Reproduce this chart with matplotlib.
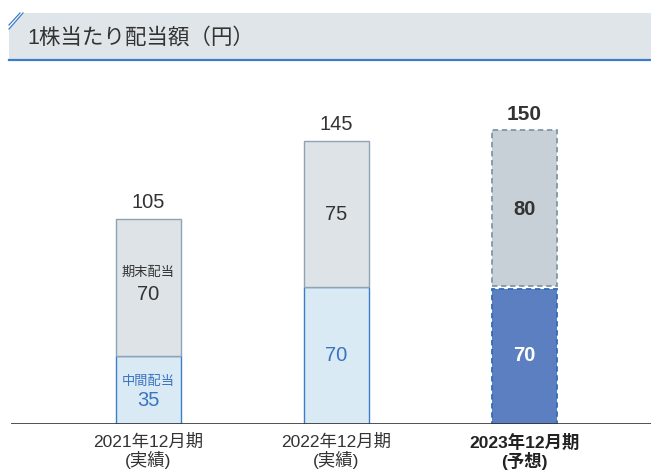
import matplotlib
matplotlib.use("Agg")
import matplotlib.pyplot as plt
from matplotlib.patches import Polygon

# Arial-like digits, CJK glyphs fall back to Noto
plt.rcParams['font.family'] = ['Liberation Sans', 'Noto Sans CJK JP', 'DejaVu Sans']

# data
periods = ['2021年12月期\n(実績)', '2022年12月期\n(実績)', '2023年12月期\n(予想)']
interim = [35, 70, 70]
final = [70, 75, 80]
totals = [105, 145, 150]
title = '1株当たり配当額（円）'

W, H = 651, 472
fig = plt.figure(figsize=(W / 100, H / 100), dpi=100)

# header band drawn in pixel coords
bg = fig.add_axes([0, 0, 1, 1])
bg.set_xlim(0, W)
bg.set_ylim(H, 0)
bg.axis('off')
bg.add_patch(Polygon([(24, 13), (W, 13), (W, 60), (9, 60), (9, 29)],
                     closed=True, facecolor='#dfe5e8', edgecolor='none'))
bg.plot([9, W], [60, 60], color='#3d7cc9', lw=1.6)
bg.plot([9, 20], [25, 13], color='#3d7cc9', lw=0.9)
bg.plot([9, 23], [29, 13], color='#3d7cc9', lw=0.9)
bg.text(27, 38, title, fontsize=15.5, color='#333333', va='center', ha='left')

# chart axes: baseline at y=424 px, 1.952 px per yen
ax = fig.add_axes([11 / W, (H - 424) / H, (W - 11) / W, 344 / H])
ax.set_ylim(0, 344 / 1.952)
ax.set_xlim(-(148.5 - 11) / 188, (W - 148.5) / 188)
ax.axis('off')
ax.axhline(0, color='#333333', lw=1.2)

x = list(range(len(periods)))
bw = 65 / 188
num_fs = 14.5

for i in x:
    if i < 2:
        ax.bar(i, interim[i], bw, color='#d9eaf5', edgecolor='#3d7cc9', lw=1)
        ax.bar(i, final[i], bw, bottom=interim[i], color='#dde3e6',
               edgecolor='#8ea3b3', lw=1)
    else:
        ax.bar(i, interim[i] - 0.6, bw, color='#5b7fc1', edgecolor='#2f6db5',
               lw=1.3, linestyle=(0, (3, 2)))
        ax.bar(i, final[i], bw, bottom=interim[i] + 0.6, color='#c6d0d6',
               edgecolor='#7f97a8', lw=1.3, linestyle=(0, (3, 2)))

# totals
for i in x:
    bold = i == 2
    ax.annotate(str(totals[i]), (i, interim[i] + final[i]), xytext=(0, 5),
                textcoords='offset points', ha='center', va='bottom',
                fontsize=15 if bold else num_fs, color='#333333',
                fontweight='bold' if bold else 'normal')

# segment labels
ax.text(0, interim[0] + final[0] / 2 + 7.4, '期末配当', ha='center', va='center',
        fontsize=9.5, color='#333333')
ax.text(0, interim[0] + final[0] / 2 - 3.6, str(final[0]), ha='center', va='center',
        fontsize=num_fs, color='#333333')
ax.text(0, interim[0] / 2 + 3.9, '中間配当', ha='center', va='center',
        fontsize=9.5, color='#3a73c0')
ax.text(0, interim[0] / 2 - 5.3, str(interim[0]), ha='center', va='center',
        fontsize=num_fs, color='#3a73c0')

ax.text(1, interim[1] + final[1] / 2, str(final[1]), ha='center', va='center',
        fontsize=num_fs, color='#333333')
ax.text(1, interim[1] / 2, str(interim[1]), ha='center', va='center',
        fontsize=num_fs, color='#3a73c0')

ax.text(2, interim[2] + final[2] / 2, str(final[2]), ha='center', va='center',
        fontsize=num_fs, color='#333333', fontweight='bold')
ax.text(2, interim[2] / 2, str(interim[2]), ha='center', va='center',
        fontsize=num_fs, color='white', fontweight='bold')

# period labels
for i, lab in enumerate(periods):
    ax.annotate(lab, (i, 0), xytext=(0, -7), textcoords='offset points',
                ha='center', va='top', fontsize=12.5, linespacing=1.1,
                color='#222222' if i == 2 else '#333333',
                fontweight='bold' if i == 2 else 'normal')

fig.savefig('out.png', dpi=100)
